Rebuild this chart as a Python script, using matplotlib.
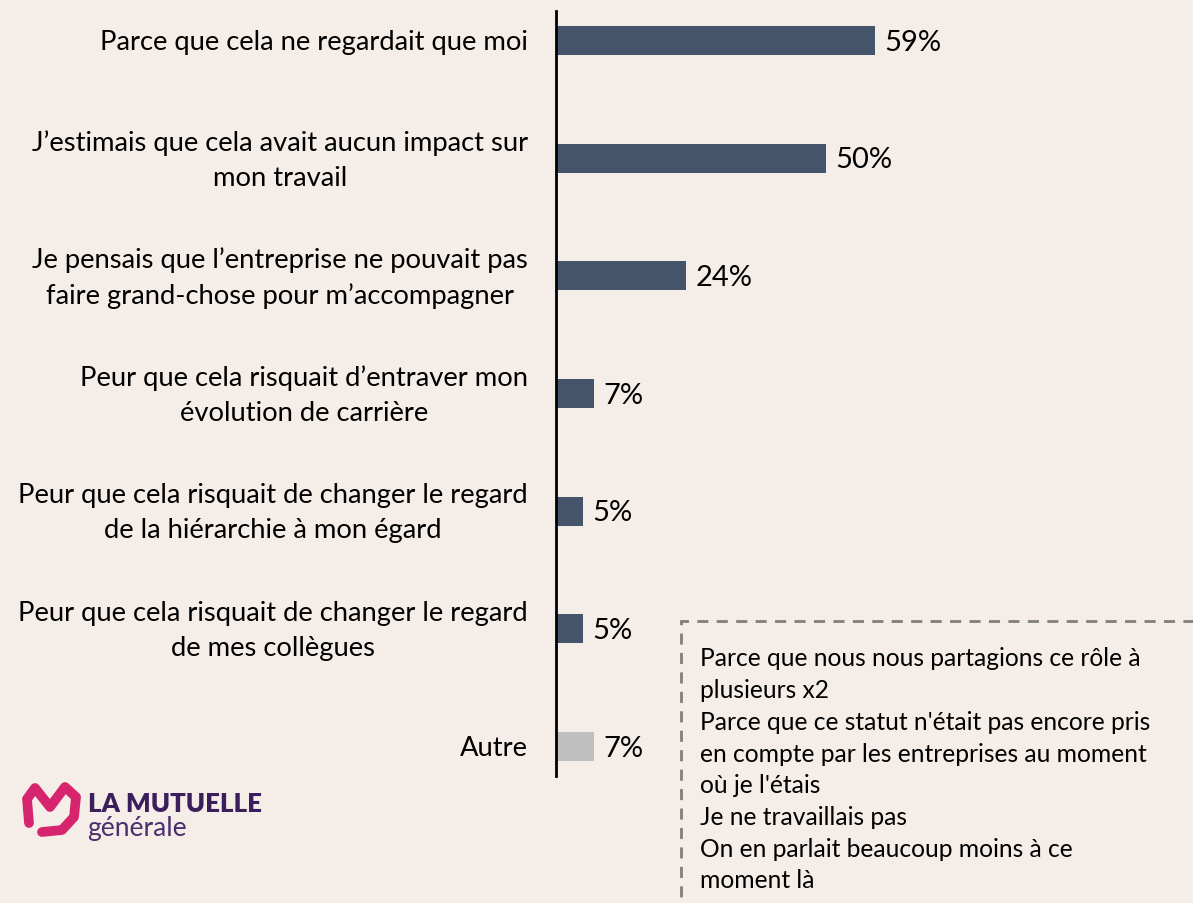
import matplotlib.pyplot as plt
from matplotlib.patches import Rectangle

labels = [
    "Parce que cela ne regardait que moi",
    "J\u2019estimais que cela avait aucun impact sur\nmon travail",
    "Je pensais que l\u2019entreprise ne pouvait pas\nfaire grand-chose pour m\u2019accompagner",
    "Peur que cela risquait d\u2019entraver mon\n\u00e9volution de carri\u00e8re",
    "Peur que cela risquait de changer le regard\nde la hi\u00e9rarchie \u00e0 mon \u00e9gard",
    "Peur que cela risquait de changer le regard\nde mes coll\u00e8gues",
    "Autre",
]
values = [59, 50, 24, 7, 5, 5, 7]
colors = ["#44546A"] * 6 + ["#BFBFBF"]

autre_lines = [
    "Parce que nous nous partagions ce r\u00f4le \u00e0",
    "plusieurs x2",
    "Parce que ce statut n'\u00e9tait pas encore pris",
    "en compte par les entreprises au moment",
    "o\u00f9 je l'\u00e9tais",
    "Je ne travaillais pas",
    "On en parlait beaucoup moins \u00e0 ce",
    "moment l\u00e0",
]

bg = "#F5EDE7"
plt.rcParams['font.family'] = ['Lato', 'DejaVu Sans']

fig = plt.figure(figsize=(11.93, 9.04), dpi=100, facecolor=bg)
ax = fig.add_axes([556 / 1193, 1 - 777 / 904, 637 / 1193, 765 / 904])
ax.set_facecolor(bg)

y = list(range(len(values)))
ax.barh(y, values, height=0.245, color=colors)
ax.set_ylim(len(values) - 1 + 0.25, -0.25)
ax.set_xlim(0, 637 / 5.4)

for yi, v in zip(y, values):
    ax.text(v + 1.8, yi + 0.01, f"{v}%", va='center', ha='left', fontsize=21, color='black')

for yi, lab in zip(y, labels):
    ax.text(-5.2, yi + 0.01, lab, va='center', ha='right', multialignment='center',
            fontsize=19.7, color='black', linespacing=1.5)

for s in ['top', 'right', 'bottom']:
    ax.spines[s].set_visible(False)
ax.spines['left'].set_linewidth(2)
ax.spines['left'].set_color('black')
ax.set_xticks([])
ax.set_yticks([])

# dashed box for "Autre" answers
box = Rectangle((681 / 1193, -0.05), 0.6, (1 - 622 / 904) + 0.05, transform=fig.transFigure,
                fill=False, edgecolor='#7F7F7F', linewidth=2, linestyle=(0, (4, 3)))
fig.add_artist(box)
for i, line in enumerate(autre_lines):
    fig.text(700 / 1193, 1 - (659 + i * 31.7) / 904, line, fontsize=17.7,
             color='black', va='center', ha='left')

# logo
fig.text(88 / 1193, 1 - 804 / 904, "LA MUTUELLE", fontsize=18.5, fontweight='heavy',
         color='#3B1F5C', va='center', ha='left')
fig.text(87 / 1193, 1 - 829 / 904, "g\u00e9n\u00e9rale", fontsize=19, fontweight='normal',
         color='#4A2E6E', va='center', ha='left')
lx = [29, 27, 35, 50, 65, 76, 74, 62, 42]
ly = [824, 800, 789, 808, 788, 798, 818, 831, 833]
fig.add_artist(plt.Line2D([v / 1193 for v in lx], [1 - v / 904 for v in ly],
                          transform=fig.transFigure, color='#D6246E', linewidth=7,
                          solid_capstyle='round', solid_joinstyle='round'))

fig.savefig('out.png', dpi=100, facecolor=bg)
